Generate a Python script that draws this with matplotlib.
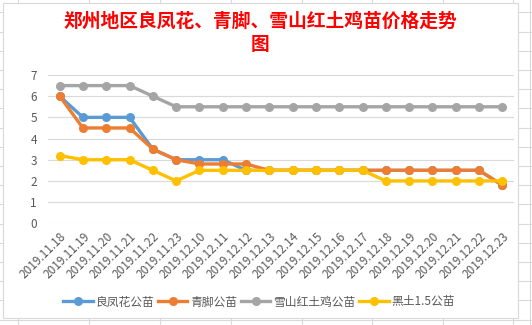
import matplotlib
matplotlib.use("Agg")
import matplotlib.pyplot as plt
from matplotlib.lines import Line2D
from matplotlib.patches import Rectangle

plt.rcParams['font.family'] = ['Noto Sans CJK SC', 'DejaVu Sans']

dates = ["2019.11.18", "2019.11.19", "2019.11.20", "2019.11.21", "2019.11.22",
         "2019.11.23", "2019.12.10", "2019.12.11", "2019.12.12", "2019.12.13",
         "2019.12.14", "2019.12.15", "2019.12.16", "2019.12.17", "2019.12.18",
         "2019.12.19", "2019.12.20", "2019.12.21", "2019.12.22", "2019.12.23"]
lfh = [6, 5, 5, 5, 3.5, 3, 3, 3, 2.5, 2.5, 2.5, 2.5, 2.5, 2.5, 2.5, 2.5, 2.5, 2.5, 2.5, 1.8]
qj = [6, 4.5, 4.5, 4.5, 3.5, 3, 2.8, 2.8, 2.8, 2.5, 2.5, 2.5, 2.5, 2.5, 2.5, 2.5, 2.5, 2.5, 2.5, 1.8]
xs = [6.5, 6.5, 6.5, 6.5, 6, 5.5, 5.5, 5.5, 5.5, 5.5, 5.5, 5.5, 5.5, 5.5, 5.5, 5.5, 5.5, 5.5, 5.5, 5.5]
ht = [3.2, 3, 3, 3, 2.5, 2, 2.5, 2.5, 2.5, 2.5, 2.5, 2.5, 2.5, 2.5, 2, 2, 2, 2, 2, 2]
names = ["良凤花公苗", "青脚公苗", "雪山红土鸡公苗", "黑土1.5公苗"]
colors = ["#5B9BD5", "#ED7D31", "#A5A5A5", "#FFC000"]
title = "郑州地区良凤花、青脚、雪山红土鸡苗价格走势\n图"

W, H = 532, 325
fig = plt.figure(figsize=(W / 100, H / 100), dpi=100)
fig.patch.set_facecolor("white")

# spreadsheet cell grid in background
for yv in [12.4 + 19.2 * k for k in range(17)]:
    fig.add_artist(Line2D([0, 1], [1 - yv / H, 1 - yv / H], color="#D9D9D9", lw=0.8, zorder=-2))
for xv in [18, 89, 160, 231, 302, 372, 443, 513, 530]:
    fig.add_artist(Line2D([xv / W, xv / W], [0, 1], color="#D9D9D9", lw=0.8, zorder=-2))
# chart area
fig.add_artist(Rectangle((3 / W, 1 - 318 / H), 515 / W, 315 / H, facecolor="white",
                         edgecolor="#D9D9D9", lw=0.8, zorder=-1))

ax = fig.add_axes([48 / W, 1 - 223.3 / H, 466 / W, 148.3 / H])
ax.set_zorder(2)
ax.set_facecolor("none")
x = list(range(len(dates)))
for vals, name, c in zip([lfh, qj, xs, ht], names, colors):
    ax.plot(x, vals, color=c, lw=2.4, marker="o", markersize=5.5, label=name,
            solid_joinstyle="round", clip_on=False)

ax.set_xlim(-0.5, len(dates) - 0.5)
ax.set_ylim(0, 7)
ax.set_yticks(range(0, 8))
ax.grid(axis="y", color="#D9D9D9", lw=0.8)
ax.set_axisbelow(True)
for s in ax.spines.values():
    s.set_visible(False)
ax.tick_params(length=0, colors="#595959", labelsize=8.5)
ax.tick_params(axis="y", pad=8)
ax.tick_params(axis="x", pad=5)
ax.set_xticks(x)
ax.set_xticklabels(dates, rotation=45, ha="right", rotation_mode="anchor", fontsize=8.5)

fig.text(260 / W, 1 - 33 / H, title, color="#FF0000", fontsize=13.5, fontweight="bold",
         ha="center", va="center", linespacing=1.3, zorder=3)

leg = fig.legend(loc="center", bbox_to_anchor=(259 / W, 1 - 302 / H), ncol=4, frameon=False,
                 fontsize=8.5, labelcolor="#595959", handlelength=2.5, handletextpad=0.25,
                 columnspacing=0.3, borderaxespad=0)
leg.set_zorder(3)

fig.savefig("out.png", dpi=100)
